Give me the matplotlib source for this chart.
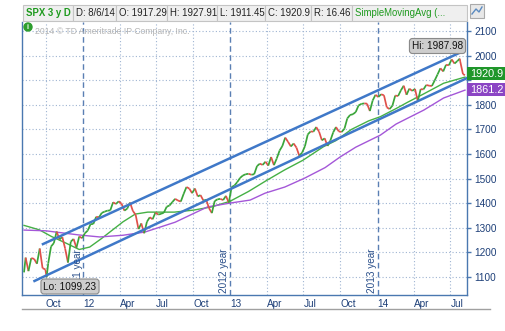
import matplotlib
matplotlib.use("Agg")
import matplotlib.pyplot as plt
import matplotlib.dates as mdates
from matplotlib.collections import LineCollection
from matplotlib.patches import Rectangle, Circle
import pandas as pd

plt.rcParams['font.family'] = ['Liberation Sans', 'DejaVu Sans']

# weekly closes of SPX (Fridays), Aug 2011 - Aug 2014
closes_2011 = [1179, 1124, 1177, 1174, 1154, 1216, 1136, 1131, 1155, 1224, 1238, 1285,
               1253, 1263, 1216, 1159, 1244, 1255, 1219, 1265, 1258]
closes_2012 = [1278, 1289, 1315, 1316, 1345, 1343, 1361, 1366, 1370, 1371, 1404, 1397, 1408,
               1398, 1370, 1378, 1403, 1369, 1353, 1295, 1318, 1278, 1325, 1343, 1335, 1362,
               1354, 1357, 1362, 1386, 1391, 1405, 1418, 1411, 1407, 1438, 1466, 1460, 1441,
               1460, 1428, 1433, 1411, 1414, 1380, 1360, 1409, 1416, 1418, 1413, 1430, 1402]
closes_2013 = [1466, 1472, 1486, 1503, 1513, 1518, 1520, 1516, 1518, 1551, 1561, 1556, 1569,
               1553, 1588, 1555, 1582, 1614, 1633, 1667, 1650, 1631, 1643, 1626, 1593, 1606,
               1632, 1680, 1692, 1691, 1710, 1691, 1656, 1664, 1633, 1655, 1688, 1710, 1692,
               1690, 1703, 1745, 1759, 1762, 1771, 1798, 1804, 1806, 1805, 1775, 1818, 1841]
closes_2014 = [1832, 1843, 1839, 1790, 1783, 1797, 1838, 1836, 1859, 1878, 1841, 1866, 1857,
               1865, 1815, 1864, 1863, 1881, 1878, 1877, 1900, 1924, 1949, 1936, 1963, 1961,
               1985, 1968, 1978, 1978, 1925]
# extra daily points: first bar, low, high, last bar
extra_dates = ['2011-08-08', '2011-10-03', '2014-07-24', '2014-08-06']
extra_closes = [1119, 1099.23, 1987.98, 1920.9]

# moving averages
sma_green_dates = ['2011-08-08', '2011-09-15', '2011-10-15', '2011-11-20', '2011-12-23',
                   '2012-01-18', '2012-02-15', '2012-03-15', '2012-04-10', '2012-05-10',
                   '2012-06-10', '2012-08-15', '2012-10-01', '2012-11-15', '2012-12-31',
                   '2013-02-15', '2013-03-31', '2013-05-15', '2013-06-30', '2013-08-20',
                   '2013-09-20', '2013-10-28', '2013-12-10', '2014-01-08', '2014-02-16',
                   '2014-03-17', '2014-04-26', '2014-06-14', '2014-08-06']
sma_green = [1310, 1292, 1265, 1238, 1212, 1222, 1255, 1292, 1325, 1356, 1364, 1364, 1372,
             1385, 1408, 1448, 1492, 1535, 1575, 1630, 1655, 1700, 1735, 1752, 1785, 1811,
             1845, 1888, 1913]
sma_purple_dates = ['2011-08-08', '2011-10-01', '2011-12-23', '2012-02-12', '2012-04-10',
                    '2012-06-03', '2012-08-17', '2012-11-05', '2013-01-01', '2013-02-19',
                    '2013-03-28', '2013-05-16', '2013-07-04', '2013-08-24', '2013-09-30',
                    '2013-11-08', '2014-01-08', '2014-02-16', '2014-03-17', '2014-04-26',
                    '2014-06-14', '2014-08-06']
sma_purple = [1291, 1288, 1271, 1263, 1270, 1283, 1323, 1385, 1401, 1413, 1441, 1466, 1502,
              1545, 1588, 1628, 1677, 1722, 1746, 1779, 1828, 1860]

# trend channel end points
chan_upper_dates = ['2011-09-24', '2014-08-01']
chan_upper = [1234, 2018]
chan_lower_dates = ['2011-09-03', '2014-08-11']
chan_lower = [1084, 1909]

quarter_ticks = ['2011-10-01', '2012-01-01', '2012-04-01', '2012-07-01', '2012-10-01',
                 '2013-01-01', '2013-04-01', '2013-07-01', '2013-10-01', '2014-01-01',
                 '2014-04-01', '2014-07-01']
quarter_labels = ['Oct', '12', 'Apr', 'Jul', 'Oct', '13', 'Apr', 'Jul', 'Oct', '14', 'Apr', 'Jul']
year_lines = ['2012-01-01', '2013-01-01', '2014-01-01']
year_texts = ['2011 year', '2012 year', '2013 year']
price_ticks = [1100, 1200, 1300, 1400, 1500, 1600, 1700, 1800, 1900, 2000, 2100]
price_labels = ['1100', '1200', '1300', '1400', '1500', '1600', '1700', '1800', '', '2000', '2100']

header_cells = ['SPX 3 y D', 'D: 8/6/14', 'O: 1917.29', 'H: 1927.91', 'L: 1911.45',
                'C: 1920.9', 'R: 16.46', 'SimpleMovingAvg (...']

# ---- build series
weekly = pd.date_range('2011-08-12', '2014-08-01', freq='W-FRI')
s = pd.Series(closes_2011 + closes_2012 + closes_2013 + closes_2014, index=weekly, dtype=float)
for d, v in zip(extra_dates, extra_closes):
    s[pd.Timestamp(d)] = v
s = s.sort_index()


def dn(ds):
    return mdates.date2num(pd.to_datetime(ds).to_pydatetime())


W, H = 506, 331
fig = plt.figure(figsize=(W / 100, H / 100), dpi=100)
ax = fig.add_axes([22 / W, 1 - 295 / H, 445 / W, (295 - 22) / H])

blue = '#4a78b0'
navy = '#1d3f78'

ax.set_xlim(dn('2011-08-03'), dn('2014-08-11'))
ax.set_ylim(1027, 2137)

# grid
for p in price_ticks:
    ax.axhline(p, color='#9fb4d2', lw=0.8, ls=(0, (1, 2)), zorder=1)
for d in quarter_ticks:
    if d in year_lines:
        ax.axvline(dn(d), color='#5a7fb3', lw=1, ls=(0, (4, 2.5)), zorder=1)
    else:
        ax.axvline(dn(d), color='#9fb4d2', lw=0.8, ls=(0, (1, 2)), zorder=1)

# price line, green up / red down
xn = mdates.date2num(s.index.to_pydatetime())
yv = s.values
segs = [[(xn[i], yv[i]), (xn[i + 1], yv[i + 1])] for i in range(len(xn) - 1)]
cols = ['#3aa53a' if yv[i + 1] >= yv[i] else '#e0504a' for i in range(len(xn) - 1)]
ax.add_collection(LineCollection(segs, colors=cols, linewidths=1.25, zorder=4))

# moving averages
ax.plot(dn(sma_green_dates), sma_green, color='#45b045', lw=1, zorder=3)
ax.plot(dn(sma_purple_dates), sma_purple, color='#a457d8', lw=1, zorder=3)

# channel
ax.plot(dn(chan_upper_dates), chan_upper, color='#3f78c8', lw=1.8, zorder=5)
ax.plot(dn(chan_lower_dates), chan_lower, color='#3f78c8', lw=1.8, zorder=5)

# axes styling
ax.set_xticks(dn(quarter_ticks))
ax.set_xticklabels(quarter_labels, ha='left')
ax.tick_params(axis='x', length=0, pad=3, labelsize=7.2, labelcolor=navy)
ax.yaxis.tick_right()
ax.set_yticks(price_ticks)
ax.set_yticklabels(price_labels)
ax.tick_params(axis='y', length=3, width=1, color=blue, pad=2, labelsize=7.2, labelcolor=navy)
for sp in ['left', 'right', 'bottom']:
    ax.spines[sp].set_color(blue)
    ax.spines[sp].set_linewidth(1)
ax.spines['top'].set_visible(False)

# overlay in pixel coords
ov = fig.add_axes([0, 0, 1, 1], zorder=10)
ov.set_xlim(0, W)
ov.set_ylim(H, 0)
ov.axis('off')
ov.patch.set_alpha(0)

# header cells
bounds = [23, 73, 116, 167, 217, 265, 311, 352, 467]
for i, t in enumerate(header_cells):
    ov.add_patch(Rectangle((bounds[i], 5), bounds[i + 1] - bounds[i], 16,
                           facecolor='#efefef', edgecolor='#c4c4c4', lw=0.8))
    c = '#1e9a1e' if i in (0, len(header_cells) - 1) else '#222222'
    ov.text(bounds[i] + 3, 13.5, t, fontsize=6.9, color=c, va='center', ha='left',
            fontweight='bold' if i == 0 else 'normal')
ov.add_patch(Rectangle((470, 4), 14, 14, facecolor='#e8e8e8', edgecolor='#aaaaaa', lw=0.8))
ov.plot([472, 476, 479, 482], [14, 9, 12, 7], color='#5a8ac0', lw=1)

# watermark
ov.add_patch(Circle((28, 27), 4, color='#2e9e2e'))
ov.text(28, 27.3, 'i', fontsize=5, color='white', ha='center', va='center', fontweight='bold')
ov.text(35, 32, '2014 \u00a9 TD Ameritrade IP Company, Inc.', fontsize=6.2, color='#b4b4b4',
        va='center', ha='left')

# year texts
for xp, t in zip([78, 224, 372], year_texts):
    ov.text(xp, 293, t, rotation=90, fontsize=7.2, color='#2a4f8a', ha='center', va='bottom')

# hi / lo labels
for (cx, cy), t in zip([(70, 286.5), (437.5, 46)], ['Lo: 1099.23', 'Hi: 1987.98']):
    ov.text(cx, cy, t, fontsize=7.2, color='#111111', ha='center', va='center',
            bbox=dict(boxstyle='round,pad=0.25,rounding_size=0.3', fc='#cdcdcd', ec='#8a8a8a', lw=0.8))

# last value boxes
ov.add_patch(Rectangle((467, 67), 40, 13, facecolor='#1f962a', edgecolor='none'))
ov.text(470, 73.8, '1920.9', fontsize=7.8, color='white', va='center', ha='left')
ov.add_patch(Rectangle((467, 83), 40, 13, facecolor='#8b45c4', edgecolor='none'))
ov.text(470, 89.8, '1861.2', fontsize=7.8, color='white', va='center', ha='left')

# bottom rule
ov.plot([22, 490], [309, 309], color='#a0a0a0', lw=1)

fig.savefig('out.png', dpi=100)
